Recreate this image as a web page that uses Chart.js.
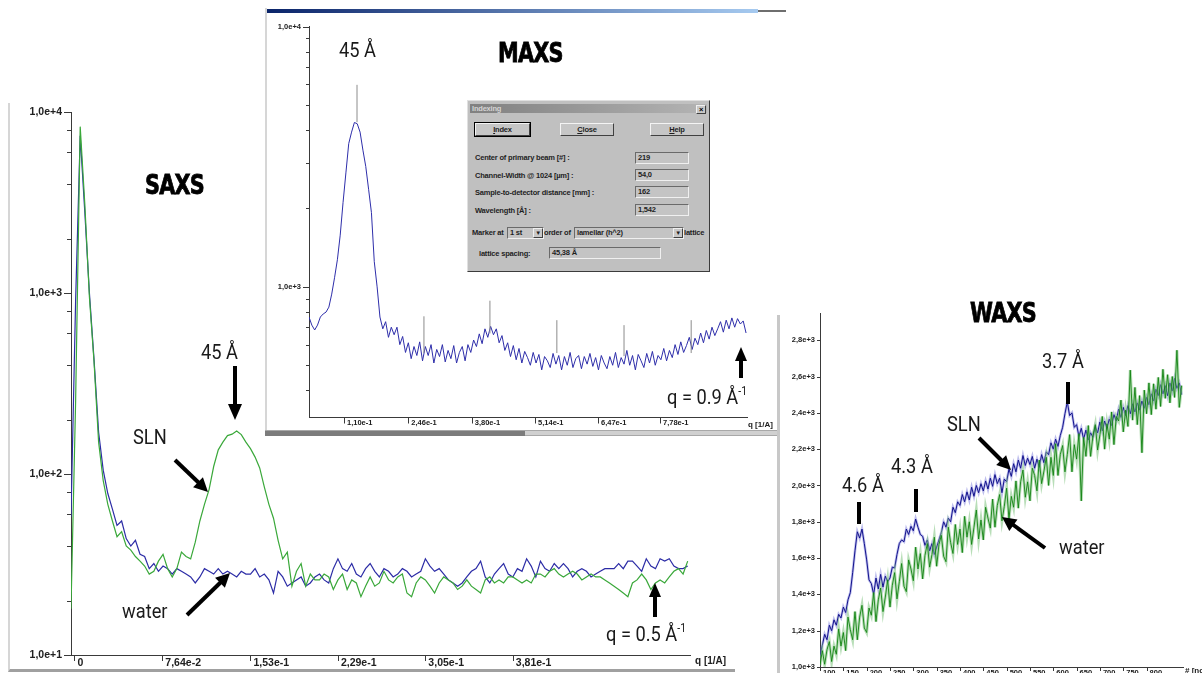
<!DOCTYPE html>
<html>
<head>
<meta charset="utf-8">
<title>SAXS / MAXS / WAXS</title>
<script src="https://cdn.jsdelivr.net/npm/chart.js"></script>
<style>
  body { margin: 0; width: 1202px; height: 673px; overflow: hidden; background: #fff; position: relative; }
  canvas { position: absolute; }
  .box { position: absolute; }
  .note { position: absolute; font-family: Roboto, "DejaVu Sans", sans-serif; font-size: 21px; line-height: 21px; color: #1a1a1a; white-space: nowrap; transform: scaleX(0.87); transform-origin: 0 0; }
  .sup { font-size: 12px; position: relative; top: -9px; }
  .title { position: absolute; font-family: "DejaVu Sans", sans-serif; font-weight: bold; font-size: 26px; line-height: 26px; letter-spacing: -1px; color: #000; -webkit-text-stroke: 0.8px #000; transform: scaleX(0.8); transform-origin: 0 0; }
  .unit { position: absolute; font-family: "Liberation Sans", Arial, sans-serif; font-weight: bold; color: #202020; white-space: nowrap; }
  #dlg { position: absolute; left: 467px; top: 100px; width: 241px; height: 170px; background: #c0c0c0; border: 1px solid; border-color: #e0e0e0 #3c3c3c #3c3c3c #e0e0e0; font-family: "Liberation Sans", Arial, sans-serif; font-weight: bold; font-size: 7.5px; letter-spacing: -0.2px; color: #1e1e1e; }
  #dlg div { position: absolute; white-space: nowrap; }
  .dtitle { left: 2px; top: 3px; width: 235px; height: 9px; line-height: 9px; padding-left: 2px; background: linear-gradient(to right, #808080, #b4b4b4); color: #d4d4d4; }
  .dx { right: 1px; top: 1px; width: 8px; height: 7px; line-height: 7px; text-align: center; background: #c8c8c8; color: #000; border: 1px solid; border-color: #f0f0f0 #404040 #404040 #f0f0f0; }
  .btn { top: 22px; height: 11px; line-height: 11px; text-align: center; background: #c6c6c6; border: 1px solid; border-color: #f4f4f4 #404040 #404040 #f4f4f4; }
  .def { outline: 1px solid #000; }
  .dl { left: 7px; line-height: 10px; }
  .fld { height: 10px; line-height: 10px; padding-left: 2px; background: #c4c4c4; border: 1px solid; border-color: #6a6a6a #f0f0f0 #f0f0f0 #6a6a6a; }
  .arr { right: 0; top: 0; width: 8px; height: 8px; line-height: 8px; font-size: 6px; text-align: center; background: #c8c8c8; border: 1px solid; border-color: #f0f0f0 #404040 #404040 #f0f0f0; }
</style>
</head>
<body>

<!-- SAXS panel -->
<div class="box" style="left:8px;top:103px;width:725px;height:566px;border-left:2px solid #d6d6d6;border-bottom:3px solid #a0a0a0;"></div>
<canvas id="saxs" width="775" height="578" style="left:0;top:95px;width:775px;height:578px;"></canvas>
<div class="title" style="left:145px;top:172px;">SAXS</div>
<div class="note" style="left:201px;top:342px;">45 Å</div>
<div class="note" style="left:133px;top:427px;">SLN</div>
<div class="note" style="left:122px;top:601px;">water</div>
<div class="note" style="left:606px;top:624px;">q = 0.5 Å<span class="sup">-1</span></div>
<div class="unit" style="left:695px;top:655px;font-size:10px;">q [1/A]</div>

<!-- MAXS panel -->
<div class="box" style="left:265px;top:8px;width:520px;height:422px;background:#fff;border-left:2px solid #d6d6d6;"></div>
<div class="box" style="left:267px;top:9px;width:491px;height:4px;background:linear-gradient(to right,#0a246a,#a6caf0);"></div>
<div class="box" style="left:758px;top:10px;width:28px;height:2px;background:#6e6e6e;"></div>
<canvas id="maxs" width="520" height="416" style="left:267px;top:14px;width:520px;height:416px;"></canvas>
<div class="box" style="left:265px;top:430px;width:260px;height:5px;background:#7c7c7c;border-top:1px solid #a8a8a8;"></div>
<div class="box" style="left:525px;top:430px;width:262px;height:4px;background:#d0d0d0;border-top:1px solid #a8a8a8;border-bottom:1px solid #a8a8a8;"></div>
<div class="title" style="left:498px;top:40px;">MAXS</div>
<div class="note" style="left:339px;top:40px;">45 Å</div>
<div class="note" style="left:667px;top:387px;">q = 0.9 Å<span class="sup">-1</span></div>
<div class="unit" style="left:748px;top:420px;font-size:8px;">q [1/A]</div>

<div id="dlg">
  <div class="dtitle">Indexing<div class="dx">×</div></div>
  <div class="btn def" style="left:7px;width:53px;"><u>I</u>ndex</div>
  <div class="btn" style="left:92px;width:52px;"><u>C</u>lose</div>
  <div class="btn" style="left:182px;width:52px;"><u>H</u>elp</div>
  <div class="dl" style="top:52px;">Center of primary beam [#] :</div>
  <div class="dl" style="top:70px;">Channel-Width @ 1024 [µm] :</div>
  <div class="dl" style="top:87px;">Sample-to-detector distance [mm] :</div>
  <div class="dl" style="top:105px;">Wavelength [Å] :</div>
  <div class="fld" style="left:167px;top:51px;width:50px;">219</div>
  <div class="fld" style="left:167px;top:68px;width:50px;">54,0</div>
  <div class="fld" style="left:167px;top:85px;width:50px;">162</div>
  <div class="fld" style="left:167px;top:103px;width:50px;">1,542</div>
  <div class="dl" style="left:4px;top:127px;">Marker at</div>
  <div class="fld" style="left:39px;top:126px;width:33px;">1 st<div class="arr">▼</div></div>
  <div class="dl" style="left:76px;top:127px;">order of</div>
  <div class="fld" style="left:106px;top:126px;width:106px;">lamellar (h^2)<div class="arr">▼</div></div>
  <div class="dl" style="left:216px;top:127px;">lattice</div>
  <div class="dl" style="left:11px;top:148px;">lattice spacing:</div>
  <div class="fld" style="left:81px;top:146px;width:108px;">45,38 Å</div>
</div>

<!-- WAXS panel -->
<div class="box" style="left:777px;top:315px;width:425px;height:358px;background:#fff;border-left:3px solid #c8c8c8;"></div>
<canvas id="waxs" width="422" height="380" style="left:780px;top:300px;width:422px;height:380px;"></canvas>
<div class="title" style="left:970px;top:300px;">WAXS</div>
<div class="note" style="left:842px;top:475px;">4.6 Å</div>
<div class="note" style="left:891px;top:456px;">4.3 Å</div>
<div class="note" style="left:1042px;top:351px;">3.7 Å</div>
<div class="note" style="left:947px;top:414px;">SLN</div>
<div class="note" style="left:1059px;top:537px;">water</div>
<div class="unit" style="left:1185px;top:666px;font-size:8px;"># [no]</div>

<svg width="1202" height="673" style="position:absolute;left:0;top:0;">
  <g stroke="#000" stroke-width="4" fill="none">
    <line x1="235" y1="366" x2="235" y2="406"/>
    <line x1="175" y1="460" x2="199" y2="483"/>
    <line x1="187" y1="615" x2="221" y2="582"/>
    <line x1="655" y1="617" x2="655" y2="596"/>
    <line x1="741" y1="378" x2="741" y2="360"/>
    <line x1="979" y1="438" x2="1002" y2="461"/>
    <line x1="1045" y1="548" x2="1012" y2="524"/>
  </g>
  <g fill="#000">
    <polygon points="228,404 242,404 235,420"/>
    <polygon points="193.1,487.3 202.9,477.3 208,492"/>
    <polygon points="224.9,587.8 215.1,577.8 230,573"/>
    <polygon points="649,597 661,597 655,583"/>
    <polygon points="735,361 747,361 741,347"/>
    <polygon points="996.2,465.1 1006.1,455.2 1011,470"/>
    <polygon points="1017.5,519.5 1009.3,530.9 1002,517"/>
    <rect x="857" y="502" width="4" height="22"/>
    <rect x="914" y="489" width="4" height="23"/>
    <rect x="1066" y="382" width="4" height="22"/>
  </g>
</svg>

<script>
// SAXS: intensity on a log axis, q from -0.003 in steps of 0.004
var saxsQStart = -0.003, saxsQStep = 0.004;
var saxsSln = [
  18, 250, 8300, 3100, 950, 420, 150, 92, 68, 55,
  45, 48, 40, 38, 35, 33, 31, 28, 29, 33,
  36, 30, 27, 30, 37, 35, 34, 42, 55, 68,
  82, 110, 136, 150, 163, 166, 173, 165, 150, 138,
  124, 108, 85, 68, 57, 43, 34, 37, 24, 29,
  32, 24, 28, 26, 26, 28, 27, 23, 26, 28,
  23, 26, 25, 21, 24, 27, 24, 25, 29, 26,
  25, 27, 28, 22, 21, 25, 27, 26, 24, 22,
  25, 27, 26, 25, 23, 24, 26, 24, 23, 22,
  26, 27, 25, 26, 25, 27, 27, 26, 25, 26,
  25, 28, 28, 27, 29, 30, 28, 27, 28, 29,
  28, 26, 27, 28, 27, 27, 26, 25, 24, 23,
  22, 21, 25, 26, 28, 26, 23, 25, 26, 25,
  27, 29, 30, 28, 33
];
var saxsWater = [
  58, 900, 7400, 2800, 1000, 430, 170, 105, 78, 64,
  52, 55, 44, 40, 43, 36, 35, 30, 32, 29,
  31, 30, 28, 30, 29, 28, 27, 25, 27, 30,
  29, 28, 30, 28, 29, 28, 27, 29, 28, 28,
  30, 27, 28, 26, 22, 29, 27, 24, 25, 26,
  27, 24, 25, 27, 28, 26, 25, 30, 34, 30,
  29, 32, 28, 27, 30, 32, 29, 27, 30, 29,
  27, 28, 30, 29, 27, 28, 29, 34, 31, 29,
  30, 28, 26, 25, 24, 25, 27, 29, 30, 33,
  27, 25, 28, 30, 32, 28, 27, 30, 29, 34,
  31, 27, 33, 30, 29, 32, 30, 32, 30, 27,
  29, 30, 29, 27, 28, 29, 30, 30, 30, 32,
  30, 33, 33, 31, 29, 34, 31, 30, 34, 33,
  34, 31, 30, 30, 31
];
var saxsXTicks = [0, 0.0764, 0.153, 0.229, 0.305, 0.381];
var saxsXLabels = ['0', '7,64e-2', '1,53e-1', '2,29e-1', '3,05e-1', '3,81e-1'];
var saxsYTicks = [10, 100, 1000, 10000];
var saxsYLabels = ['1,0e+1', '1,0e+2', '1,0e+3', '1,0e+4'];
var saxsYMinor = [20, 40, 60, 80, 200, 400, 600, 800, 2000, 4000, 6000, 8000];

// MAXS: SLN only, q from 0.036 in steps of 0.006
var maxsQStart = 0.036, maxsQStep = 0.006;
var maxsSln = [
  766, 713, 683, 713, 766, 787, 800, 836, 938, 1084,
  1271, 1580, 2110, 2740, 3550, 3930, 4280, 4230, 3930, 3350,
  2900, 2370, 1930, 1250, 1000, 766, 690, 735, 640, 700,
  655, 700, 600, 645, 560, 610, 530, 590, 545, 615,
  520, 590, 545, 600, 510, 575, 540, 600, 515, 570,
  530, 595, 510, 560, 590, 520, 600, 560, 625, 590,
  660, 605, 690, 640, 705, 655, 690, 610, 650, 570,
  610, 540, 595, 525, 580, 510, 565, 535, 500, 560,
  510, 550, 480, 540, 520, 490, 555, 505, 545, 480,
  540, 500, 560, 490, 530, 545, 485, 540, 505, 555,
  495, 535, 480, 545, 510, 485, 540, 500, 560, 490,
  535, 505, 570, 500, 545, 480, 550, 520, 490, 555,
  510, 565, 500, 545, 525, 580, 520, 570, 535, 600,
  550, 615, 560, 595, 640, 575, 635, 600, 665, 610,
  680, 630, 700, 650, 690, 735, 670, 745, 690, 760,
  700, 755, 720, 740, 665
];
var maxsXTicks = [0.110, 0.246, 0.380, 0.514, 0.647, 0.778];
var maxsXLabels = ['1,10e-1', '2,46e-1', '3,80e-1', '5,14e-1', '6,47e-1', '7,78e-1'];
var maxsYTicks = [1000, 10000];
var maxsYLabels = ['1,0e+3', '1,0e+4'];
var maxsYMinor = [400, 500, 600, 700, 800, 900, 2000, 3000, 4000, 5000, 6000, 7000, 8000, 9000];
// lamellar index markers (q, bottom and top intensity)
var markerQ = [0.1375, 0.279, 0.4185, 0.560, 0.702, 0.844];
var markerLow = [4290, 557, 663, 557, 542, 557];
var markerHigh = [5970, 771, 885, 745, 713, 745];

// WAXS: counts per channel, channel 100 in steps of 5
var waxsChStart = 100, waxsChStep = 5;
var waxsSln = [
  1060, 1120, 1180, 1150, 1230, 1200, 1260, 1230, 1290, 1270,
  1330, 1300, 1370, 1410, 1520, 1640, 1745, 1710, 1760, 1680,
  1590, 1480, 1460, 1400, 1490, 1430, 1510, 1440, 1500, 1470,
  1490, 1550, 1545, 1620, 1680, 1700, 1690, 1760, 1730, 1775,
  1750, 1815, 1770, 1730, 1720, 1670, 1700, 1640, 1680, 1620,
  1660, 1700, 1740, 1800, 1770, 1820, 1800, 1880, 1850, 1910,
  1890, 1950, 1910, 1965, 1920, 1990, 1940, 2000, 1960, 2010,
  1970, 2025, 1980, 2040, 1995, 2060, 2010, 2040, 1960, 2035,
  2020, 2090, 2050, 2120, 2075, 2140, 2095, 2165, 2110, 2150,
  2115, 2160, 2095, 2145, 2100, 2170, 2125, 2185, 2170, 2235,
  2200, 2255, 2215, 2275, 2320, 2395, 2460, 2385, 2400, 2320,
  2335, 2270, 2315, 2255, 2305, 2250, 2290, 2265, 2325, 2290,
  2350, 2300, 2355, 2315, 2365, 2330, 2390, 2355, 2420, 2375,
  2430, 2385, 2440, 2395, 2450, 2405, 2455, 2415, 2465, 2425,
  2485, 2445, 2505, 2465, 2530, 2495, 2555, 2505, 2550, 2495,
  2565, 2520, 2590, 2535, 2565, 2500
];
var waxsWater = [
  1010, 1090, 1015, 1095, 1140, 1030, 1115, 1070, 1210, 1115,
  1190, 1090, 1275, 1205, 1150, 1305, 1150, 1275, 1340, 1215,
  1190, 1325, 1285, 1410, 1250, 1370, 1435, 1305, 1385, 1480,
  1330, 1450, 1520, 1375, 1470, 1570, 1445, 1415, 1590, 1540,
  1475, 1660, 1540, 1625, 1485, 1615, 1680, 1550, 1620, 1715,
  1555, 1675, 1725, 1610, 1580, 1770, 1685, 1625, 1785, 1675,
  1760, 1630, 1830, 1715, 1800, 1675, 1770, 1865, 1705, 1810,
  1700, 1880, 1820, 1765, 1925, 1770, 1890, 1950, 1805, 1885,
  1985, 1815, 1940, 1880, 2025, 1875, 2020, 2085, 1935, 2020,
  1915, 2095, 2055, 1970, 2140, 2010, 2080, 2155, 2000, 2155,
  2055, 2230, 2055, 2170, 2220, 2075, 2170, 2280, 2075, 2225,
  2145, 2285, 1915, 2265, 2160, 2330, 2160, 2275, 2335, 2195,
  2280, 2380, 2200, 2340, 2255, 2405, 2225, 2380, 2355, 2470,
  2295, 2415, 2325, 2635, 2360, 2540, 2335, 2495, 2180, 2525,
  2395, 2565, 2390, 2560, 2420, 2595, 2435, 2640, 2480, 2610,
  2455, 2600, 2485, 2745, 2430, 2550
];
var waxsXTicks = [100, 150, 200, 250, 300, 350, 400, 450, 500, 550, 600, 650, 700, 750, 800];
var waxsXLabels = ['100', '150', '200', '250', '300', '350', '400', '450', '500', '550', '600', '650', '700', '750', '800'];
var waxsYTicks = [1000, 1200, 1400, 1600, 1800, 2000, 2200, 2400, 2600, 2800];
var waxsYLabels = ['1,0e+3', '1,2e+3', '1,4e+3', '1,6e+3', '1,8e+3', '2,0e+3', '2,2e+3', '2,4e+3', '2,6e+3', '2,8e+3'];

// pair each value with its position on the x axis
function xy(start, step, values) {
  return values.map(function (v, i) { return { x: +(start + i * step).toFixed(4), y: v }; });
}

// short tick marks outside the plot, like the original software draws them
var tickMarks = {
  id: 'tickMarks',
  afterDraw: function (chart, args, opts) {
    var ctx = chart.ctx, x = chart.scales.x, y = chart.scales.y;
    ctx.save();
    ctx.strokeStyle = '#3a3a3a';
    ctx.lineWidth = 1;
    ctx.beginPath();
    opts.x.forEach(function (t) {
      var px = Math.round(x.getPixelForValue(t[0])) + 0.5;
      ctx.moveTo(px, y.bottom);
      ctx.lineTo(px, y.bottom + t[1]);
    });
    opts.y.forEach(function (t) {
      var py = Math.round(y.getPixelForValue(t[0])) + 0.5;
      ctx.moveTo(x.left - t[1], py);
      ctx.lineTo(x.left, py);
    });
    ctx.stroke();
    ctx.restore();
  }
};

function scaleOpts(o) {
  return {
    type: o.type, min: o.min, max: o.max,
    afterFit: function (s) { if (s.isHorizontal()) s.height = o.size; else s.width = o.size; },
    afterBuildTicks: function (s) { s.ticks = o.ticks.map(function (v) { return { value: v }; }); },
    grid: { display: false, drawTicks: false },
    border: { color: '#3a3a3a', width: 1 },
    ticks: {
      autoSkip: false, maxRotation: 0, minRotation: 0,
      align: o.align || 'center', labelOffset: o.labelOffset || 0, padding: o.pad,
      color: '#202020',
      font: { family: '"Liberation Sans", Arial, sans-serif', size: o.fontSize, weight: 'bold' },
      callback: function (v, i) { return o.labels[i]; }
    }
  };
}

function marks(list, len) {
  return list.map(function (v) { return [v, len]; });
}

var base = { responsive: false, animation: false, devicePixelRatio: 1, events: [] };

var ctx = document.getElementById('saxs').getContext('2d');
var chart = new Chart(ctx, {
  type: 'line',
  data: {
    datasets: [
      { label: 'SLN', data: xy(saxsQStart, saxsQStep, saxsSln), borderColor: '#3aa83a', borderWidth: 1.2, pointRadius: 0 },
      { label: 'water', data: xy(saxsQStart, saxsQStep, saxsWater), borderColor: '#2c2ca6', borderWidth: 1.2, pointRadius: 0 }
    ]
  },
  options: Object.assign({}, base, {
    layout: { padding: { left: 0, right: 85, top: 17, bottom: 0 } },
    plugins: {
      legend: { display: false }, tooltip: { enabled: false },
      tickMarks: { x: marks(saxsXTicks, 6), y: marks(saxsYTicks, 7).concat(marks(saxsYMinor, 4)) }
    },
    scales: {
      x: scaleOpts({ type: 'linear', min: -0.003, max: 0.535, size: 18, ticks: saxsXTicks, labels: saxsXLabels, align: 'start', labelOffset: 3, pad: 2, fontSize: 10.5 }),
      y: scaleOpts({ type: 'logarithmic', min: 10, max: 10000, size: 71, ticks: saxsYTicks, labels: saxsYLabels, pad: 9, fontSize: 10.5 })
    }
  }),
  plugins: [tickMarks]
});

// index markers as short vertical segments, split by gaps
var markerData = [];
markerQ.forEach(function (q, i) {
  markerData.push({ x: q, y: markerLow[i] }, { x: q, y: markerHigh[i] }, { x: q, y: null });
});

var ctx = document.getElementById('maxs').getContext('2d');
var chart = new Chart(ctx, {
  type: 'line',
  data: {
    datasets: [
      { label: 'markers', data: markerData, borderColor: '#8c8c8c', borderWidth: 1, pointRadius: 0, spanGaps: false },
      { label: 'SLN', data: xy(maxsQStart, maxsQStep, maxsSln), borderColor: '#2e2eaa', borderWidth: 1, pointRadius: 0 }
    ]
  },
  options: Object.assign({}, base, {
    layout: { padding: { left: 0, right: 40, top: 7, bottom: 0 } },
    plugins: {
      legend: { display: false }, tooltip: { enabled: false },
      tickMarks: { x: marks(maxsXTicks, 6), y: marks(maxsYTicks, 6).concat(marks(maxsYMinor, 3)) }
    },
    scales: {
      x: scaleOpts({ type: 'linear', min: 0.036, max: 0.962, size: 11, ticks: maxsXTicks, labels: maxsXLabels, align: 'start', labelOffset: 3, pad: 1, fontSize: 7.5 }),
      y: scaleOpts({ type: 'logarithmic', min: 315, max: 10000, size: 42, ticks: maxsYTicks, labels: maxsYLabels, pad: 8, fontSize: 7.5 })
    }
  }),
  plugins: [tickMarks]
});

var ctx = document.getElementById('waxs').getContext('2d');
var chart = new Chart(ctx, {
  type: 'line',
  data: {
    datasets: [
      { label: 'water', data: xy(waxsChStart, waxsChStep, waxsWater), borderColor: '#118211', borderWidth: 0.9, pointRadius: 0 },
      { label: 'water halo', data: xy(waxsChStart, waxsChStep, waxsWater), borderColor: 'rgba(125,195,125,0.55)', borderWidth: 3, pointRadius: 0 },
      { label: 'SLN', data: xy(waxsChStart, waxsChStep, waxsSln), borderColor: '#12128c', borderWidth: 1, pointRadius: 0 },
      { label: 'SLN halo', data: xy(waxsChStart, waxsChStep, waxsSln), borderColor: 'rgba(110,110,215,0.45)', borderWidth: 2.6, pointRadius: 0 }
    ]
  },
  options: Object.assign({}, base, {
    layout: { padding: { left: 0, right: 19, top: 13, bottom: 0 } },
    plugins: {
      legend: { display: false }, tooltip: { enabled: false },
      tickMarks: { x: marks(waxsXTicks, 4), y: marks(waxsYTicks, 3) }
    },
    scales: {
      x: scaleOpts({ type: 'linear', min: 100, max: 878, size: 13, ticks: waxsXTicks, labels: waxsXLabels, align: 'start', labelOffset: 3, pad: 1, fontSize: 7.5 }),
      y: scaleOpts({ type: 'linear', min: 1000, max: 2950, size: 40, ticks: waxsYTicks, labels: waxsYLabels, pad: 5, fontSize: 7.5 })
    }
  }),
  plugins: [tickMarks]
});
</script>
</body>
</html>
